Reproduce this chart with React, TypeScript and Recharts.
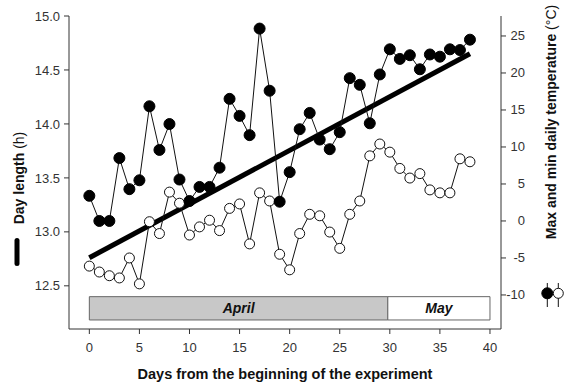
import React from 'react';
import { ComposedChart, Line, XAxis, YAxis, ReferenceArea, Label } from 'recharts';

const FONT = "'Liberation Sans', Arial, Helvetica, sans-serif";

// Days from the beginning of the experiment
const days = [0, 1, 2, 3, 4, 5, 6, 7, 8, 9, 10, 11, 12, 13, 14, 15, 16, 17, 18, 19, 20, 21, 22, 23, 24, 25, 26, 27, 28, 29, 30, 31, 32, 33, 34, 35, 36, 37, 38];
// Max daily temperature (°C)
const maxTemp = [3.4, 0.0, 0.0, 8.5, 4.3, 5.5, 15.5, 9.6, 13.1, 5.6, 2.7, 4.6, 4.6, 7.2, 16.5, 14.2, 11.6, 26.0, 17.6, 2.6, 6.6, 12.4, 14.6, 11.0, 9.7, 12.0, 19.3, 18.4, 13.2, 19.8, 23.2, 21.9, 22.4, 20.5, 22.5, 22.2, 23.2, 23.1, 24.5];
// Min daily temperature (°C)
const minTemp = [-6.1, -6.9, -7.4, -7.7, -5.0, -8.5, -0.1, -1.7, 3.9, 2.4, -1.9, -0.8, 0.1, -1.3, 1.7, 2.3, -3.1, 3.8, 2.7, -4.5, -6.6, -1.7, 0.9, 0.7, -1.5, -3.7, 0.9, 2.7, 8.8, 10.4, 9.3, 7.1, 5.8, 6.4, 4.2, 3.8, 3.8, 8.4, 8.0];
// Day length (h)
const dayLengthDays = [0, 38];
const dayLengthHours = [12.76, 14.65];

const xTicks = [0, 5, 10, 15, 20, 25, 30, 35, 40];
const leftTicks = [12.5, 13.0, 13.5, 14.0, 14.5, 15.0];
const rightTicks = [-10, -5, 0, 5, 10, 15, 20, 25];

const monthNames = ['April', 'May'];
const monthStart = [0, 29.8];
const monthEnd = [29.8, 40];
const monthFill = ['#c8c8c8', '#ffffff'];

const tempData = days.map((d, i) => ({ day: d, max: maxTemp[i], min: minTemp[i] }));
const dayLengthData = dayLengthDays.map((d, i) => ({ day: d, hours: dayLengthHours[i] }));

const BAND_LOW = -13.38;
const BAND_HIGH = -10.23;

function RightTick(props: any) {
  const { x, y, payload } = props;
  return (
    <text x={x + 17} y={y} dy={4.5} textAnchor="end" fontSize={13} fill="#333" fontFamily={FONT}>
      {payload.value}
    </text>
  );
}

function MonthLabel(text: string) {
  return (props: any) => {
    const vb = props.viewBox || {};
    return (
      <text
        x={vb.x + vb.width / 2}
        y={vb.y + vb.height / 2}
        dy={5}
        textAnchor="middle"
        fontSize={14}
        fontWeight="bold"
        fontStyle="italic"
        fill="#111"
        fontFamily={FONT}
      >
        {text}
      </text>
    );
  };
}

export default function App() {
  return (
    <div style={{ position: 'absolute', left: 0, top: 0, width: 567, height: 383, background: '#fff' }}>
      <ComposedChart width={567} height={383} data={tempData} margin={{ top: 16, right: 0, bottom: 0, left: 0 }}>
        <XAxis
          type="number"
          dataKey="day"
          domain={[-2.03, 41.1]}
          ticks={xTicks}
          interval={0}
          allowDataOverflow
          height={54}
          tickSize={5}
          tickMargin={9}
          stroke="#333"
          tick={{ fontSize: 13, fill: '#333', fontFamily: FONT }}
        />
        <YAxis
          yAxisId="left"
          domain={[12.1, 15]}
          ticks={leftTicks}
          interval={0}
          allowDataOverflow
          width={69}
          tickSize={5}
          tickMargin={4}
          stroke="#333"
          tickFormatter={(v: number) => v.toFixed(1)}
          tick={{ fontSize: 13, fill: '#333', fontFamily: FONT }}
        />
        <YAxis
          yAxisId="right"
          orientation="right"
          domain={[-14.6, 27.7]}
          ticks={rightTicks}
          interval={0}
          allowDataOverflow
          width={66}
          tickSize={5}
          tickMargin={2}
          stroke="#333"
          tick={<RightTick />}
        />
        {monthNames.map((m, i) => (
          <ReferenceArea
            key={m}
            yAxisId="right"
            x1={monthStart[i]}
            x2={monthEnd[i]}
            y1={BAND_LOW}
            y2={BAND_HIGH}
            fill={monthFill[i]}
            fillOpacity={1}
            stroke="#666"
            strokeWidth={1}
          >
            <Label content={MonthLabel(m)} />
          </ReferenceArea>
        ))}
        <Line
          data={dayLengthData}
          yAxisId="left"
          dataKey="hours"
          stroke="#000"
          strokeWidth={5}
          dot={false}
          activeDot={false}
          isAnimationActive={false}
        />
        <Line
          yAxisId="right"
          dataKey="min"
          stroke="#111"
          strokeWidth={1}
          dot={{ r: 5, fill: '#fff', stroke: '#111', strokeWidth: 1 }}
          activeDot={false}
          isAnimationActive={false}
        />
        <Line
          yAxisId="right"
          dataKey="max"
          stroke="#111"
          strokeWidth={1}
          dot={{ r: 5.5, fill: '#000', stroke: '#000', strokeWidth: 1 }}
          activeDot={false}
          isAnimationActive={false}
        />
      </ComposedChart>
      <svg
        width={567}
        height={383}
        style={{ position: 'absolute', left: 0, top: 0, pointerEvents: 'none' }}
      >
        <text
          transform="translate(23.5,178) rotate(-90)"
          textAnchor="middle"
          fontSize={14}
          fill="#111"
          fontFamily={FONT}
        >
          <tspan fontWeight="bold">Day length </tspan>
          <tspan>(h)</tspan>
        </text>
        <rect x={14.5} y={238} width={5} height={28} rx={2.5} fill="#000" />
        <text
          transform="translate(555.5,122) rotate(-90)"
          textAnchor="middle"
          fontSize={14}
          fill="#111"
          fontFamily={FONT}
        >
          <tspan fontWeight="bold">Max and min daily temperature </tspan>
          <tspan>(°C)</tspan>
        </text>
        <line x1={547.3} y1={283} x2={547.3} y2={307} stroke="#111" strokeWidth={1} />
        <circle cx={547.3} cy={293.3} r={5.5} fill="#000" stroke="#000" />
        <line x1={558.3} y1={283} x2={558.3} y2={307} stroke="#111" strokeWidth={1} />
        <circle cx={558.3} cy={293.3} r={5} fill="#fff" stroke="#111" />
        <text x={285} y={379} textAnchor="middle" fontSize={14.5} fontWeight="bold" fill="#111" fontFamily={FONT}>
          Days from the beginning of the experiment
        </text>
      </svg>
    </div>
  );
}
